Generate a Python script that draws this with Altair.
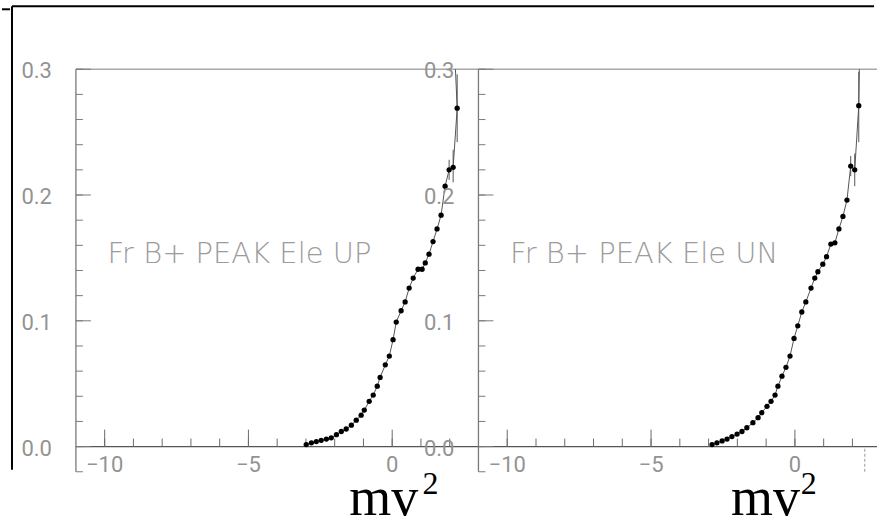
import altair as alt
import pandas as pd

# ---------------- data ----------------
UP_X = [-2.99, -2.81, -2.64, -2.47, -2.29, -2.12, -1.94, -1.77, -1.60, -1.42,
        -1.25, -1.08, -0.97, -0.80, -0.66, -0.52, -0.42, -0.24, -0.10, 0.03,
        0.14, 0.31, 0.45, 0.59, 0.73, 0.90, 1.04, 1.15, 1.28, 1.42,
        1.56, 1.70, 1.84, 1.98, 2.12, 2.26]
UP_Y = [0.0016, 0.003, 0.004, 0.005, 0.006, 0.007, 0.0095, 0.012, 0.014, 0.017,
        0.021, 0.025, 0.029, 0.036, 0.041, 0.048, 0.055, 0.065, 0.072, 0.085,
        0.099, 0.108, 0.115, 0.126, 0.134, 0.141, 0.141, 0.146, 0.153, 0.163,
        0.173, 0.184, 0.207, 0.220, 0.222, 0.269]
UN_X = [-2.88, -2.71, -2.53, -2.36, -2.19, -2.01, -1.84, -1.67, -1.46, -1.28,
        -1.15, -0.97, -0.83, -0.69, -0.59, -0.45, -0.31, -0.17, -0.03, 0.10,
        0.24, 0.38, 0.56, 0.69, 0.80, 0.97, 1.10, 1.25, 1.39, 1.53,
        1.67, 1.81, 1.94, 2.08, 2.22]
UN_Y = [0.0016, 0.003, 0.0045, 0.006, 0.008, 0.010, 0.012, 0.015, 0.019, 0.023,
        0.027, 0.032, 0.036, 0.041, 0.048, 0.056, 0.063, 0.072, 0.086, 0.096,
        0.107, 0.115, 0.126, 0.134, 0.139, 0.145, 0.151, 0.161, 0.162, 0.173,
        0.183, 0.196, 0.223, 0.220, 0.271]
UP_LINE_END = [2.20, 0.30]
UN_LINE_END = [2.24, 0.30]

UP_ERR_X = [1.98, 2.12, 2.26]
UP_ERR_LO = [0.212, 0.210, 0.242]
UP_ERR_HI = [0.228, 0.236, 0.296]
UN_ERR_X = [1.94, 2.08, 2.22]
UN_ERR_LO = [0.215, 0.207, 0.242]
UN_ERR_HI = [0.231, 0.233, 0.298]

Y_MINOR = [round(-0.02 + 0.02 * i, 2) for i in range(17)]
Y_MAJOR = [0.0, 0.1, 0.2, 0.3]
Y_LABELS = ["0.0", "0.1", "0.2", "0.3"]
X_MINOR = list(range(-10, 3))
X_MAJOR = [-10, -5, 0]
X_LABELS = ["\u221210", "\u22125", "0"]

PANEL_TEXT = ["Fr B+ PEAK Ele UP", "Fr B+ PEAK Ele UN"]
AXIS_NAME = "mv"
AXIS_SUP = "2"

GREY = "#939393"


def panel(px, py, line_end, ex, elo, ehi, label, xmax, width,
          mv_x, sup_x, frame=False, dashed_x=None):
    xs = alt.Scale(domain=[-11, xmax], nice=False, zero=False)
    ys = alt.Scale(domain=[-0.02, 0.3], nice=False, zero=False)

    one = alt.Chart(pd.DataFrame({"a": [0]}))
    layers = []

    # top border of the frame
    layers.append(one.mark_rule(color="#a8a8a8", strokeWidth=1.5).encode(
        x=alt.XDatum(-11, scale=xs), x2=alt.X2Datum(xmax),
        y=alt.YDatum(0.3, scale=ys)))
    # y axis line
    layers.append(one.mark_rule(color="#7a7a7a", strokeWidth=1.3).encode(
        x=alt.XDatum(-11, scale=xs),
        y=alt.YDatum(-0.02, scale=ys), y2=alt.Y2Datum(0.3)))
    # x axis line at y=0
    layers.append(one.mark_rule(color="#555555", strokeWidth=1.3).encode(
        x=alt.XDatum(-11, scale=xs), x2=alt.X2Datum(xmax),
        y=alt.YDatum(0, scale=ys)))

    # y ticks
    ymin_df = pd.DataFrame({"v": Y_MINOR})
    layers.append(alt.Chart(ymin_df).mark_rule(color="#7a7a7a", strokeWidth=1, x2Offset=7).encode(
        x=alt.XDatum(-11, scale=xs), x2=alt.X2Datum(-11),
        y=alt.Y("v:Q", scale=ys)))
    ymaj_df = pd.DataFrame({"v": Y_MAJOR, "t": Y_LABELS})
    layers.append(alt.Chart(ymaj_df).mark_rule(color="#7a7a7a", strokeWidth=1, x2Offset=15).encode(
        x=alt.XDatum(-11, scale=xs), x2=alt.X2Datum(-11),
        y=alt.Y("v:Q", scale=ys)))
    layers.append(alt.Chart(ymaj_df).mark_text(
        align="right", baseline="middle", dx=-24, dy=2,
        font="Roboto", fontSize=22, color=GREY).encode(
        x=alt.XDatum(-11, scale=xs), y=alt.Y("v:Q", scale=ys), text="t:N"))

    # x ticks
    xmin_df = pd.DataFrame({"v": X_MINOR})
    layers.append(alt.Chart(xmin_df).mark_rule(color="#6a6a6a", strokeWidth=1, y2Offset=-8).encode(
        x=alt.X("v:Q", scale=xs),
        y=alt.YDatum(0, scale=ys), y2=alt.Y2Datum(0)))
    xmaj_df = pd.DataFrame({"v": X_MAJOR, "t": X_LABELS})
    layers.append(alt.Chart(xmaj_df).mark_rule(color="#6a6a6a", strokeWidth=1, y2Offset=-17).encode(
        x=alt.X("v:Q", scale=xs),
        y=alt.YDatum(0, scale=ys), y2=alt.Y2Datum(0)))
    layers.append(alt.Chart(xmaj_df).mark_text(
        align="center", baseline="middle", dy=18,
        font="Roboto", fontSize=22, color=GREY).encode(
        x=alt.X("v:Q", scale=xs), y=alt.YDatum(0, scale=ys), text="t:N"))

    if dashed_x is not None:
        layers.append(one.mark_rule(color="#999999", strokeWidth=1, strokeDash=[3, 2]).encode(
            x=alt.XDatum(dashed_x, scale=xs),
            y=alt.YDatum(-0.02, scale=ys), y2=alt.Y2Datum(0)))

    # panel label
    lab_df = pd.DataFrame({"t": [label]})
    layers.append(alt.Chart(lab_df).mark_text(
        align="left", baseline="middle", font="DejaVu Sans", fontWeight=200,
        fontSize=29, color="#9c9c9c").encode(
        x=alt.XDatum(-9.9, scale=xs), y=alt.YDatum(0.153, scale=ys), text="t:N"))

    # curve
    lx = list(px) + [line_end[0]]
    ly = list(py) + [line_end[1]]
    line_df = pd.DataFrame({"x": lx, "y": ly, "i": list(range(len(lx)))})
    layers.append(alt.Chart(line_df).mark_line(color="#555555", strokeWidth=1).encode(
        x=alt.X("x:Q", scale=xs), y=alt.Y("y:Q", scale=ys), order="i:Q"))

    # error bars
    err_df = pd.DataFrame({"x": ex, "lo": elo, "hi": ehi})
    layers.append(alt.Chart(err_df).mark_rule(color="#555555", strokeWidth=1).encode(
        x=alt.X("x:Q", scale=xs), y=alt.Y("lo:Q", scale=ys), y2="hi:Q"))

    # points
    pts = pd.DataFrame({"x": px, "y": py})
    layers.append(alt.Chart(pts).mark_circle(size=28, color="black", opacity=1).encode(
        x=alt.X("x:Q", scale=xs), y=alt.Y("y:Q", scale=ys)))

    # axis name m v ^2 below
    nm_df = pd.DataFrame({"t": [AXIS_NAME]})
    layers.append(alt.Chart(nm_df).mark_text(
        align="left", baseline="alphabetic", font="Liberation Serif", fontSize=54,
        color="black").encode(
        x=alt.XDatum(mv_x, scale=xs), y=alt.YDatum(-0.054, scale=ys), text="t:N"))
    sp_df = pd.DataFrame({"t": [AXIS_SUP]})
    layers.append(alt.Chart(sp_df).mark_text(
        align="left", baseline="alphabetic", font="Liberation Serif", fontSize=32,
        color="black").encode(
        x=alt.XDatum(sup_x, scale=xs), y=alt.YDatum(-0.038, scale=ys), text="t:N"))

    if frame:
        # outer black frame of the picture (pixel decoration)
        layers.append(one.mark_rule(color="black", strokeWidth=2).encode(
            x=alt.value(-64), x2=alt.value(799), y=alt.value(-63)))
        layers.append(one.mark_rule(color="black", strokeWidth=2).encode(
            x=alt.value(-64), y=alt.value(-63), y2=alt.value(401)))
        layers.append(one.mark_rule(color="black", strokeWidth=2).encode(
            x=alt.value(-74), x2=alt.value(-66), y=alt.value(-60)))
        # invisible box fixing the page extent
        layers.append(one.mark_rule(opacity=0, strokeOpacity=0).encode(
            x=alt.value(-76), x2=alt.value(801), y=alt.value(-69), y2=alt.value(452)))

    return alt.layer(*layers).properties(width=width, height=403)


left = panel(UP_X, UP_Y, UP_LINE_END, UP_ERR_X, UP_ERR_LO, UP_ERR_HI,
             PANEL_TEXT[0], 3.0, 403, -1.49, 1.05, frame=True)
right = panel(UN_X, UN_Y, UN_LINE_END, UN_ERR_X, UN_ERR_LO, UN_ERR_HI,
              PANEL_TEXT[1], 2.854, 399, -2.22, 0.20, dashed_x=2.43)

chart = alt.hconcat(left, right, spacing=0, bounds="flush").properties(
    padding=0, background="white"
).configure_view(stroke=None).configure_axis(disable=True)

chart.save("out.html", embed_options={"renderer": "svg", "actions": False})
